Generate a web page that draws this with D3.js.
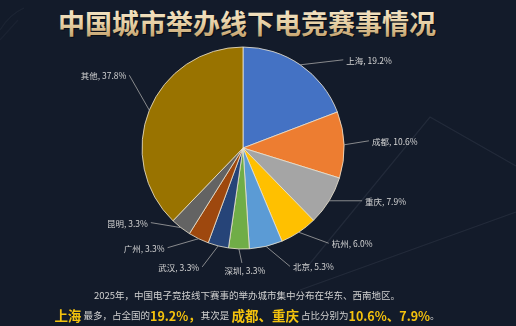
<!DOCTYPE html>
<html>
<head>
<meta charset="utf-8">
<script src="https://cdn.jsdelivr.net/npm/d3@7"></script>
<style>
  html, body { margin: 0; padding: 0; background: #131b2a; }
  svg { display: block; font-family: "Noto Sans CJK SC", "Noto Sans", sans-serif; }
</style>
</head>
<body>
<div id="chart"></div>
<script>
// 城市与占比 (%)
const cities = ["上海", "成都", "重庆", "杭州", "北京", "深圳", "武汉", "广州", "昆明", "其他"];
const shares = [19.2, 10.6, 7.9, 6.0, 5.3, 3.3, 3.3, 3.3, 3.3, 37.8];
const sliceColors = ["#4472c4", "#ed7d31", "#a5a5a5", "#ffc000", "#5b9bd5", "#70ad47", "#264478", "#9e480e", "#636363", "#997300"];

// label nudges relative to the slice edge point (like manual label placement)
const labelNudge = [[46, -5], [28, -4], [36, 0], [33, 11], [27, 20], [6, 21], [-19, 21], [-34, 9], [-33, -5], [-23, -35]];

const W = 516, H = 326;
const cx = 243, cy = 148, r = 101;

const svg = d3.select("#chart").append("svg")
    .attr("width", W)
    .attr("height", H);

svg.append("rect").attr("width", W).attr("height", H).attr("fill", "#131b2a");

// faint background decoration lines
const deco = svg.append("g").attr("fill", "none").attr("stroke", "#3a4252").attr("stroke-width", 1.2).attr("opacity", 0.4);
deco.append("path").attr("d", "M303,272 L430,117 L516,166");
deco.append("path").attr("d", "M300,290 L516,212");
deco.append("path").attr("d", "M0,30 Q10,14 24,8").attr("opacity", 0.6);
deco.append("path").attr("d", "M0,40 L18,20").attr("opacity", 0.5);

// title with gold gradient
const defs = svg.append("defs");
const grad = defs.append("linearGradient").attr("id", "gold").attr("x1", 0).attr("y1", 0).attr("x2", 0).attr("y2", 1);
grad.append("stop").attr("offset", "0%").attr("stop-color", "#fbf0d8");
grad.append("stop").attr("offset", "55%").attr("stop-color", "#e6cfa4");
grad.append("stop").attr("offset", "100%").attr("stop-color", "#b8935c");

svg.append("text")
    .attr("x", 247)
    .attr("y", 22)
    .attr("text-anchor", "middle")
    .attr("dominant-baseline", "central")
    .attr("font-size", 27)
    .attr("font-weight", "bold")
    .attr("fill", "#000")
    .attr("opacity", 0.5)
    .attr("transform", "translate(1,1.5)")
    .text("中国城市举办线下电竞赛事情况");

svg.append("text")
    .attr("x", 247)
    .attr("y", 22)
    .attr("text-anchor", "middle")
    .attr("dominant-baseline", "central")
    .attr("font-size", 27)
    .attr("font-weight", "bold")
    .attr("fill", "url(#gold)")
    .text("中国城市举办线下电竞赛事情况");

// pie
const data = cities.map((c, i) => ({ city: c, value: shares[i], color: sliceColors[i], nudge: labelNudge[i] }));

const pie = d3.pie().value(d => d.value).sort(null);
const arc = d3.arc().innerRadius(0).outerRadius(r);
const arcs = pie(data);

const g = svg.append("g").attr("transform", `translate(${cx},${cy})`);

g.selectAll("path.slice")
  .data(arcs)
  .enter()
  .append("path")
    .attr("class", "slice")
    .attr("d", arc)
    .attr("fill", d => d.data.color)
    .attr("stroke", "#efe6d2")
    .attr("stroke-width", 0.8);

// labels + leader lines
const edge = d => {
  const a = (d.startAngle + d.endAngle) / 2;
  return [Math.sin(a) * r, -Math.cos(a) * r];
};

arcs.forEach(d => {
  const [ex, ey] = edge(d);
  const [nx, ny] = d.data.nudge;
  const tx = ex + nx, ty = ey + ny;
  let anchor, lx, ly;
  if (Math.abs(nx) < 10) { anchor = "middle"; lx = tx - 3; ly = ty - 7; }
  else if (nx > 0) { anchor = "start"; lx = tx - 3; ly = ty; }
  else { anchor = "end"; lx = tx + 3; ly = ty; }

  g.append("line")
    .attr("x1", ex).attr("y1", ey)
    .attr("x2", lx).attr("y2", ly)
    .attr("stroke", "#a6a6a6")
    .attr("stroke-width", 0.8);

  g.append("text")
    .attr("x", tx)
    .attr("y", ty)
    .attr("text-anchor", anchor)
    .attr("dominant-baseline", "central")
    .attr("font-size", 8.5)
    .attr("fill", "#d4d4d4")
    .text(`${d.data.city}, ${d.data.value.toFixed(1)}%`);
});

// bottom notes
svg.append("text")
    .attr("x", 247)
    .attr("y", 295)
    .attr("text-anchor", "middle")
    .attr("dominant-baseline", "central")
    .attr("font-size", 9.5)
    .attr("fill", "#d0d0d0")
    .text("2025年，中国电子竞技线下赛事的举办城市集中分布在华东、西南地区。");

const topCity = arcs[0].data, second = arcs[1].data, third = arcs[2].data;
const parts = [
  { t: topCity.city, hi: true, size: 13.5 },
  { t: " 最多，占全国的", hi: false },
  { t: topCity.value.toFixed(1) + "%，", hi: true, size: 12.5 },
  { t: "其次是 ", hi: false },
  { t: second.city + "、" + third.city, hi: true, size: 13.5 },
  { t: " 占比分别为", hi: false },
  { t: second.value.toFixed(1) + "%、" + third.value.toFixed(1) + "%", hi: true, size: 12.5 },
  { t: "。", hi: false }
];

const line2 = svg.append("text")
    .attr("x", 247)
    .attr("y", 315)
    .attr("text-anchor", "middle")
    .attr("dominant-baseline", "central");

line2.selectAll("tspan")
  .data(parts)
  .enter()
  .append("tspan")
    .attr("font-size", d => d.hi ? d.size : 9.5)
    .attr("font-weight", d => d.hi ? "bold" : "normal")
    .attr("fill", d => d.hi ? "#f4c20d" : "#d0d0d0")
    .text(d => d.t);
</script>
</body>
</html>
